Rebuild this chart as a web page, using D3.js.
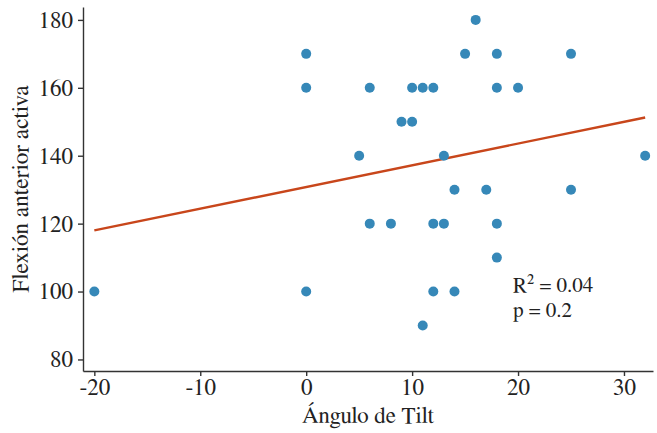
<!DOCTYPE html>
<html lang="es">
<head>
    <meta charset="UTF-8">
    <title>Flexión anterior activa vs Ángulo de Tilt</title>
    <script src="https://d3js.org/d3.v7.min.js"></script>
    <style>
        body {
            margin: 0;
            background: #fff;
        }
    </style>
</head>
<body>
<svg id="chart"></svg>
<script>
    // datos
    const tiltAngle = [-20, 0, 0, 0, 5, 6, 6, 8, 9, 10, 10, 11, 11, 12, 12, 12, 13, 13, 14, 14, 15, 16, 17, 18, 18, 18, 18, 20, 25, 25, 32];
    const flexion   = [100, 170, 160, 100, 140, 160, 120, 120, 150, 160, 150, 160, 90, 160, 120, 100, 140, 120, 130, 100, 170, 180, 130, 170, 160, 120, 110, 160, 170, 130, 140];
    const xTicks = [-20, -10, 0, 10, 20, 30];
    const yTicks = [80, 100, 120, 140, 160, 180];
    const statLabels = ["R² = 0.04", "p = 0.2"];

    const width = 657, height = 433;
    const margin = {top: 7, right: 4, bottom: 62, left: 83};
    const fontFam = '"FreeSerif", "Liberation Serif", serif';
    const ink = "#222";

    const svg = d3.select("#chart")
        .attr("width", width)
        .attr("height", height);

    const x = d3.scaleLinear()
        .domain([-21.07, 32.74])
        .range([margin.left, width - margin.right]);

    const y = d3.scaleLinear()
        .domain([76.6, 183.8])
        .range([height - margin.bottom, margin.top]);

    // ejes
    const xAxis = svg.append("g")
        .attr("transform", `translate(0,${height - margin.bottom})`)
        .call(d3.axisBottom(x).tickValues(xTicks).tickSize(5).tickPadding(3).tickSizeOuter(0)
            .tickFormat(d => String(d)));

    const yAxis = svg.append("g")
        .attr("transform", `translate(${margin.left},0)`)
        .call(d3.axisLeft(y).tickValues(yTicks).tickSize(5).tickPadding(5).tickSizeOuter(0));

    [xAxis, yAxis].forEach(a => {
        a.selectAll("path, line").attr("stroke", "#333").attr("stroke-width", 1.4);
        a.selectAll("text")
            .attr("fill", ink)
            .style("font-family", fontFam)
            .style("font-size", "23px");
    });

    // recta de regresión (mínimos cuadrados)
    const n = tiltAngle.length;
    const mx = d3.mean(tiltAngle), my = d3.mean(flexion);
    let sxy = 0, sxx = 0;
    for (let i = 0; i < n; i++) {
        sxy += (tiltAngle[i] - mx) * (flexion[i] - my);
        sxx += (tiltAngle[i] - mx) ** 2;
    }
    const slope = sxy / sxx;
    const intercept = my - slope * mx;
    const xExt = d3.extent(tiltAngle);

    svg.append("line")
        .attr("x1", x(xExt[0]))
        .attr("y1", y(intercept + slope * xExt[0]))
        .attr("x2", x(xExt[1]))
        .attr("y2", y(intercept + slope * xExt[1]))
        .attr("stroke", "#c8461b")
        .attr("stroke-width", 2.4);

    // puntos
    svg.append("g")
        .selectAll("circle")
        .data(d3.zip(tiltAngle, flexion))
        .join("circle")
        .attr("cx", d => x(d[0]))
        .attr("cy", d => y(d[1]))
        .attr("r", 5)
        .attr("fill", "#3688b8");

    // anotación
    svg.append("g")
        .selectAll("text")
        .data(statLabels)
        .join("text")
        .attr("x", 513)
        .attr("y", (d, i) => 292 + i * 25)
        .attr("fill", ink)
        .style("font-family", fontFam)
        .style("font-size", "21px")
        .text(d => d);

    // títulos
    svg.append("text")
        .attr("x", (margin.left + width - margin.right) / 2)
        .attr("y", 423)
        .attr("text-anchor", "middle")
        .attr("fill", ink)
        .style("font-family", fontFam)
        .style("font-size", "23px")
        .text("Ángulo de Tilt");

    svg.append("text")
        .attr("transform", `translate(28,${(margin.top + height - margin.bottom) / 2}) rotate(-90)`)
        .attr("text-anchor", "middle")
        .attr("fill", ink)
        .style("font-family", fontFam)
        .style("font-size", "23.5px")
        .text("Flexión anterior activa");
</script>
</body>
</html>
